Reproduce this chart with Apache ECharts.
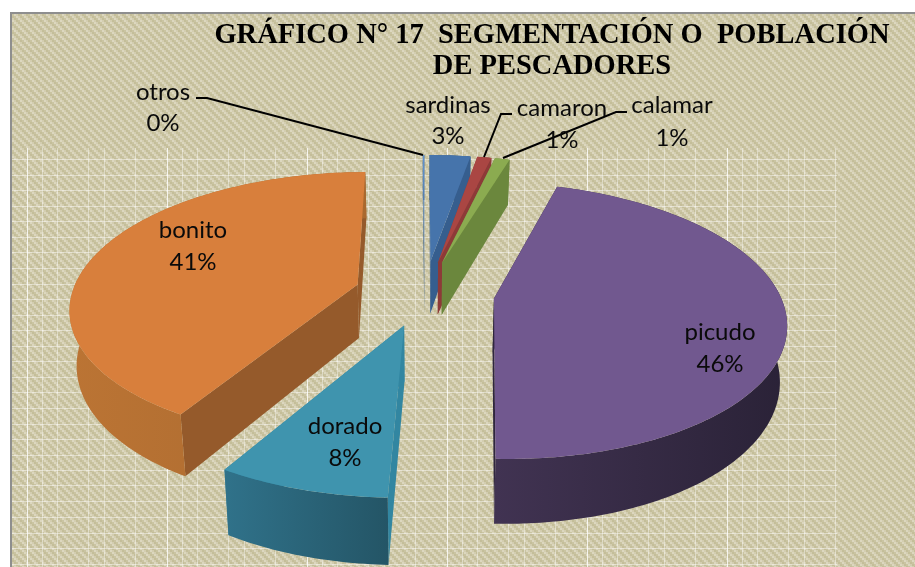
<!DOCTYPE html>
<html>
<head>
<meta charset="utf-8">
<style>html,body{margin:0;padding:0;background:#fff}#c{width:915px;height:567px}</style>
<script src="https://cdn.jsdelivr.net/npm/echarts@6/dist/echarts.min.js"></script>
</head>
<body>
<div id="c"></div>
<script>
const categories = ['sardinas','camaron','calamar','picudo','dorado','bonito','otros'];
const values = [2.75,0.95,1.0,45.85,7.95,41.4,0.1];
const topColors = ['#4674ab','#aa4643','#8bab50','#71588f','#3f94ae','#d87f3c','#5f8fc8'];
const wallColors = [['#345a88','#345a88'],['#893634','#893634'],['#6a863c','#6a863c'],['#413352','#2a2237'],['#30728a','#245566'],['#bb7434','#a9692f'],['#3f648f','#3f648f']];
const cutColors = ['#365e8e','#8d3a38','#6b873d','#2f263e','#3286a1','#955a2b','#3f648f'];
const drawOrder = [6,0,1,2,5,3,4];
const titleLines = ['GRÁFICO N° 17  SEGMENTACIÓN O  POBLACIÓN','DE PESCADORES'];
const labelPlaces = [[448,105,136],[562,108,140],[672,105,138],[720,332,364],[345,426,458],[193,230,262],[163,92,123]];
const leaders = [[[196,98],[207,98],[423,155]],[[512,114],[501,114],[484,157]],[[627,112],[616,112],[503,158]]];
const gridX = [27,42,57,88,104,135,167,182,197,228,244,275,307,322,337,368,384,415,447,462,477,508,524,555,587,602,617,648,664,695,727,742,757,788,804,835];
const brightX = [27,167,307,447,587,727];
const gridY = [159,175,190,206,221,237,252,268,284,299,315,330,346,361,377,392,408,424,439,455,470,485,501,517,533,548,564];

// perspective view of the tilted pie
const view = {cx:424.5, cy:293, A:285.5, B:133, k:0.16, D:54, explode:0.245, shrink:0.98};
function project(X,Y,bottom){
  const w = 1 + view.k*Y;
  let x = view.cx + view.A*X/w, y = view.cy - view.B*Y/w;
  if (bottom){ x = view.cx + (x-view.cx)*view.shrink; y += view.D/w; }
  return [x,y];
}
const total = values.reduce((a,b)=>a+b,0);
let run = 0;
const slices = values.map(v=>{const s=run/total*2*Math.PI; run+=v; return {s, e:run/total*2*Math.PI};});

function renderSlice(params, api){
  const i = api.value(0), sl = slices[i];
  const mid = (sl.s+sl.e)/2;
  const ox = view.explode*Math.sin(mid), oy = view.explode*Math.cos(mid);
  const steps = Math.max(2, Math.ceil((sl.e-sl.s)/(Math.PI/180)));
  const rim = [];
  for (let n=0;n<=steps;n++){ const a = sl.s+(sl.e-sl.s)*n/steps; rim.push([ox+Math.sin(a), oy+Math.cos(a)]); }
  const base = drawOrder.indexOf(i)*10+1;
  const topFace = [project(ox,oy,false)].concat(rim.map(p=>project(p[0],p[1],false)));
  const wall = rim.map(p=>project(p[0],p[1],false)).concat(rim.slice().reverse().map(p=>project(p[0],p[1],true)));
  const cut = p=>[project(ox,oy,false),project(p[0],p[1],false),project(p[0],p[1],true),project(ox,oy,true)];
  const wallFill = new echarts.graphic.LinearGradient(0,0,1,0,[{offset:0,color:wallColors[i][0]},{offset:1,color:wallColors[i][1]}]);
  const first = rim[0], last = rim[rim.length-1];
  const walls = [
    {pts:cut(first), fill:cutColors[i], y:(first[1]+oy)/2},
    {pts:cut(last), fill:cutColors[i], y:(last[1]+oy)/2},
    {pts:wall, fill:wallFill, y:Math.min(first[1],last[1],rim[steps>>1][1])}
  ].sort((a,b)=>b.y-a.y);
  const children = walls.map((w,n)=>({type:'polygon',z2:base+n,shape:{points:w.pts},style:{fill:w.fill}}));
  children.push({type:'polygon',z2:base+5,shape:{points:topFace},style:{fill:topColors[i]}});
  return {type:'group',children};
}

function makeTile(){
  const c = document.createElement('canvas'); c.width=8; c.height=8;
  const g = c.getContext('2d');
  const shades = ['#dcd7bf','#d3cdb0','#c4be99','#cac4a2'];
  for (let y=0;y<8;y++) for (let x=0;x<8;x++){
    const v = ((Math.floor(x/2)-Math.floor(y/2))%4+4)%4;
    g.fillStyle = shades[v]; g.fillRect(x,y,1,1);
  }
  return c;
}

const graphics = [{type:'rect',z:0,silent:true,shape:{x:11,y:13,width:910,height:560},style:{fill:{image:makeTile(),repeat:'repeat'},stroke:'#8e8e8e',lineWidth:2}}];
gridX.forEach(x=>{const b=brightX.includes(x);graphics.push({type:'line',z:1,silent:true,shape:{x1:x+.5,y1:148,x2:x+.5,y2:567},style:{stroke:'#fff',opacity:b?0.8:0.4,lineWidth:1}});});
gridY.forEach(y=>graphics.push({type:'line',z:1,silent:true,shape:{x1:12,y1:y+.5,x2:837,y2:y+.5},style:{stroke:'#fff',opacity:0.45,lineWidth:1}}));
leaders.forEach(p=>graphics.push({type:'polyline',z:10,silent:true,shape:{points:p},style:{stroke:'#000',lineWidth:2,fill:null}}));
const labelFont = '24px Lato';
categories.forEach((name,i)=>{
  const pl = labelPlaces[i];
  graphics.push({type:'text',z:11,silent:true,x:pl[0],y:pl[1],style:{text:name,font:labelFont,fill:'#0a0a0a',align:'center',verticalAlign:'middle'}});
  graphics.push({type:'text',z:11,silent:true,x:pl[0],y:pl[2],style:{text:Math.round(values[i]/total*100)+'%',font:labelFont,fill:'#0a0a0a',align:'center',verticalAlign:'middle'}});
});
titleLines.forEach((t,n)=>graphics.push({type:'text',z:11,silent:true,x:552,y:36+n*31,style:{text:t,font:'bold 28.5px "Liberation Serif"',fill:'#000',align:'center',verticalAlign:'middle'}}));

const chart = echarts.init(document.getElementById('c'),null,{renderer:'canvas'});
chart.setOption({
  animation:false,
  backgroundColor:'#fff',
  graphic:{elements:graphics},
  series:[{type:'custom',coordinateSystem:'none',silent:true,z:5,renderItem:renderSlice,
    data:categories.map((n,i)=>({name:n,value:[i,values[i]]}))}]
});
</script>
</body>
</html>
